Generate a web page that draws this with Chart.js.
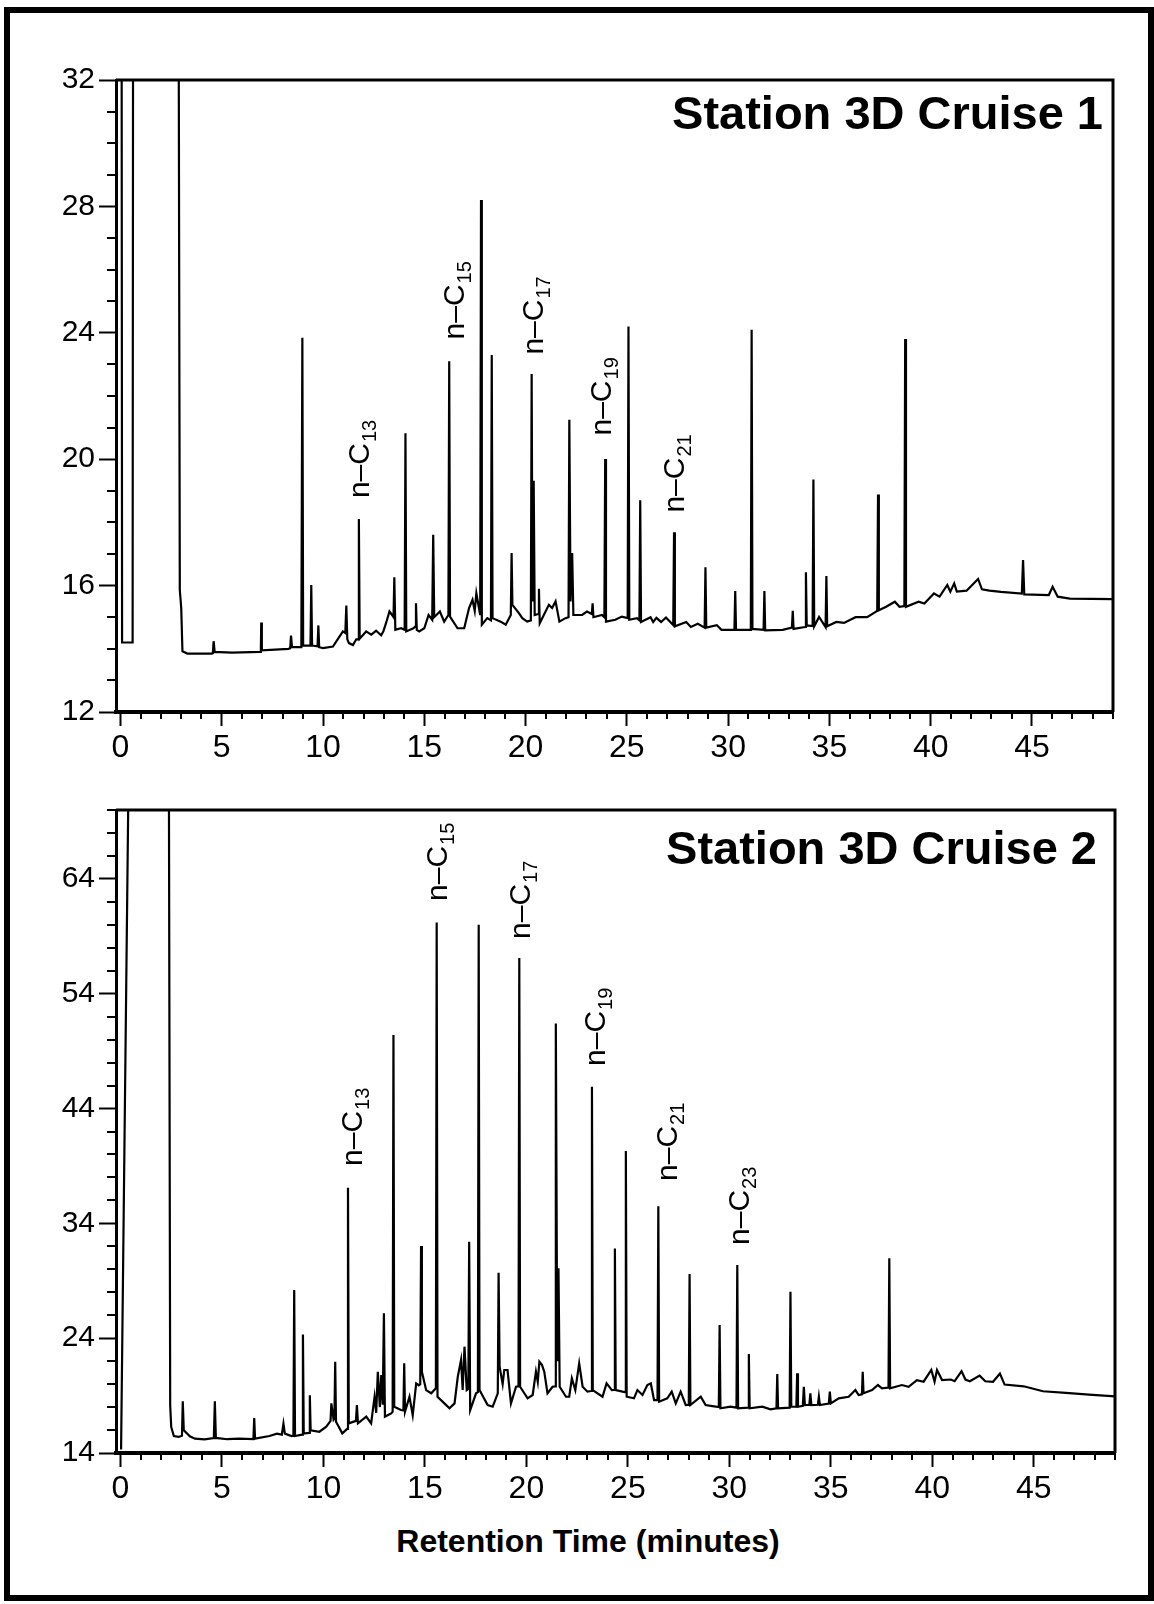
<!DOCTYPE html>
<html>
<head>
<meta charset="utf-8">
<title>Station 3D – Cruise 1 and Cruise 2</title>
<script src="https://cdn.jsdelivr.net/npm/chart.js"></script>
<style>
  html, body { margin: 0; padding: 0; background: #fff; }
  #page { position: relative; width: 1154px; height: 1604px; overflow: hidden; }
  #frame { position: absolute; left: 4px; top: 7px; width: 1150px; height: 1594px;
           border: 6px solid #000; box-sizing: border-box; }
  canvas { position: absolute; left: 0; }
  #xtitle { position: absolute; left: 0; width: 1176px; top: 1523px; text-align: center;
            font: bold 32px "Liberation Sans", Arial, sans-serif; line-height: 36px; color: #000; }
</style>
</head>
<body>
<div id="page">
  <div id="frame"></div>
  <canvas id="cruise1" width="1154" height="770" style="top:0"></canvas>
  <canvas id="cruise2" width="1154" height="745" style="top:775px"></canvas>
  <div id="xtitle">Retention Time (minutes)</div>
</div>
<script>
// Station 3D chromatograms, cruise 1 (top) and cruise 2 (bottom)

const timeTicks = [0, 5, 10, 15, 20, 25, 30, 35, 40, 45];

// --- Cruise 1 ---
const cruise1Time = [
  0.06, 0.08, 0.6, 0.62, 2.88, 2.93, 3.0, 3.06, 3.3, 4.5,
  4.56, 4.6, 4.65, 5.5, 6.9, 6.93, 6.95, 6.98, 8.3, 8.38,
  8.42, 8.47, 8.93, 8.98, 9.02, 9.38, 9.42, 9.46, 9.73, 9.77,
  9.81, 10.0, 10.49, 10.82, 10.98, 11.1, 11.15, 11.2, 11.28, 11.48,
  11.64, 11.73, 11.77, 11.81, 12.13, 12.38, 12.62, 12.87, 12.98, 13.11,
  13.28, 13.41, 13.48, 13.52, 13.57, 13.85, 14.03, 14.07, 14.11, 14.46,
  14.55, 14.59, 14.63, 14.75, 15.0, 15.21, 15.39, 15.44, 15.49, 15.77,
  15.98, 16.19, 16.23, 16.27, 16.64, 16.97, 17.21, 17.38, 17.49, 17.57,
  17.76, 17.8, 17.84, 18.11, 18.29, 18.33, 18.37, 18.77, 19.02, 19.27,
  19.31, 19.35, 19.67, 19.84, 20.08, 20.26, 20.3, 20.34, 20.4, 20.45,
  20.62, 20.66, 20.7, 21.15, 21.31, 21.48, 21.67, 21.97, 22.12, 22.16,
  22.22, 22.3, 22.36, 22.79, 23.03, 23.27, 23.31, 23.35, 23.77, 23.89,
  23.93, 23.97, 24.43, 24.75, 25.04, 25.08, 25.12, 25.5, 25.62, 25.66,
  25.7, 26.17, 26.3, 26.46, 26.69, 26.93, 27.29, 27.33, 27.37, 27.93,
  28.16, 28.5, 28.84, 28.88, 28.92, 29.44, 29.67, 30.31, 30.35, 30.39,
  31.12, 31.16, 31.2, 31.75, 31.79, 31.83, 32.69, 33.15, 33.19, 33.23,
  33.8, 33.84, 33.88, 34.17, 34.21, 34.25, 34.49, 34.81, 34.85, 34.89,
  35.34, 35.72, 36.29, 36.86, 37.36, 37.4, 37.44, 37.8, 38.23, 38.46,
  38.7, 38.74, 38.78, 39.4, 39.69, 40.16, 40.44, 40.82, 40.97, 41.16,
  41.29, 41.77, 42.34, 42.53, 42.9, 43.47, 44.5, 44.56, 44.62, 45.83,
  46.02, 46.27, 46.87, 49.0];
const cruise1Signal = [
  32, 14.2, 14.2, 32, 32, 15.86, 15.3, 13.92, 13.85, 13.85,
  13.86, 14.24, 13.9, 13.88, 13.9, 13.92, 14.83, 13.95, 14.0, 14.02,
  14.42, 14.05, 14.05, 23.84, 14.1, 14.1, 16.02, 14.1, 14.08, 14.74,
  14.05, 14.02, 14.07, 14.39, 14.55, 14.5, 15.37, 14.3, 14.18, 14.12,
  14.3, 14.3, 18.11, 14.32, 14.55, 14.45, 14.57, 14.43, 14.55, 14.81,
  15.18, 15.07, 15.0, 16.26, 14.6, 14.65, 14.6, 20.82, 14.55, 14.65,
  14.7, 15.44, 14.6, 14.55, 14.65, 15.07, 14.92, 17.61, 15.0, 15.18,
  14.86, 15.07, 23.1, 15.02, 14.65, 14.65, 15.29, 15.55, 15.2, 15.76,
  15.07, 28.2, 14.76, 14.97, 14.9, 23.3, 14.97, 14.86, 14.76, 15.07,
  17.03, 15.39, 15.13, 14.97, 14.86, 14.9, 22.7, 15.5, 19.32, 15.07,
  15.1, 15.9, 14.81, 15.39, 15.29, 15.5, 14.86, 14.97, 15.0, 21.25,
  15.5, 17.03, 15.07, 15.07, 15.18, 15.1, 15.44, 15.0, 15.07, 15.0,
  20.01, 14.86, 14.92, 15.02, 14.97, 24.2, 14.92, 14.97, 14.9, 18.7,
  14.85, 15.0, 14.85, 14.98, 14.85, 14.99, 14.75, 17.69, 14.71, 14.85,
  14.69, 14.79, 14.67, 16.58, 14.67, 14.75, 14.6, 14.6, 15.83, 14.6,
  14.6, 24.1, 14.63, 14.6, 15.83, 14.58, 14.6, 14.67, 15.2, 14.63,
  14.69, 16.42, 14.74, 14.72, 19.36, 14.71, 15.01, 14.69, 16.3, 14.71,
  14.85, 14.82, 15.0, 15.0, 15.2, 18.88, 15.22, 15.33, 15.49, 15.33,
  15.35, 23.8, 15.33, 15.49, 15.43, 15.75, 15.65, 16.02, 15.81, 16.07,
  15.81, 15.84, 16.21, 15.88, 15.84, 15.8, 15.75, 16.81, 15.72, 15.7,
  15.96, 15.65, 15.59, 15.57];
const cruise1Ticks = [12, 16, 20, 24, 28, 32];
const cruise1Peaks = ["13", "15", "17", "19", "21"];
const cruise1PeakTime = [11.73, 16.42, 20.34, 23.72, 27.32];
const cruise1PeakLevel = [18.77, 23.79, 23.31, 20.75, 18.31];

// --- Cruise 2 ---
const cruise2Time = [
  0.03, 0.38, 2.39, 2.45, 2.5, 2.63, 2.86, 3.03, 3.07, 3.12,
  3.42, 3.67, 4.14, 4.6, 4.65, 4.7, 5.27, 5.83, 6.55, 6.59,
  6.63, 7.34, 7.71, 7.95, 8.03, 8.1, 8.43, 8.52, 8.56, 8.6,
  8.95, 8.99, 9.03, 9.29, 9.33, 9.37, 9.8, 10.14, 10.35, 10.39,
  10.5, 10.54, 10.58, 10.62, 10.93, 11.17, 11.21, 11.25, 11.6, 11.65,
  11.7, 12.11, 12.35, 12.52, 12.6, 12.68, 12.78, 12.85, 12.92, 12.98,
  13.03, 13.34, 13.41, 13.45, 13.49, 13.82, 13.94, 13.98, 14.02, 14.24,
  14.4, 14.57, 14.7, 14.77, 14.81, 14.85, 15.06, 15.31, 15.54, 15.58,
  15.62, 15.96, 16.21, 16.46, 16.62, 16.78, 16.86, 16.95, 17.06, 17.14,
  17.18, 17.23, 17.52, 17.61, 17.65, 17.69, 18.09, 18.34, 18.59, 18.63,
  18.68, 18.83, 18.91, 19.07, 19.24, 19.49, 19.61, 19.65, 19.69, 20.06,
  20.31, 20.47, 20.56, 20.64, 20.77, 20.88, 21.04, 21.29, 21.41, 21.45,
  21.52, 21.58, 21.64, 21.95, 22.11, 22.24, 22.41, 22.6, 22.77, 23.01,
  23.19, 23.23, 23.27, 23.75, 23.95, 24.21, 24.32, 24.36, 24.4, 24.74,
  24.86, 24.9, 24.94, 25.3, 25.47, 25.72, 25.96, 26.13, 26.29, 26.46,
  26.5, 26.54, 26.94, 27.16, 27.36, 27.6, 27.85, 28.0, 28.04, 28.08,
  28.59, 28.83, 29.16, 29.48, 29.52, 29.56, 30.06, 30.35, 30.39, 30.43,
  30.92, 30.96, 31.0, 31.62, 32.03, 32.32, 32.36, 32.4, 32.97, 33.01,
  33.05, 33.3, 33.34, 33.38, 33.62, 33.67, 33.72, 33.94, 33.99, 34.04,
  34.36, 34.41, 34.46, 34.9, 34.95, 35.0, 35.39, 35.88, 36.21, 36.37,
  36.53, 36.57, 36.61, 37.03, 37.32, 37.52, 37.84, 37.88, 37.92, 38.5,
  38.83, 39.24, 39.57, 39.95, 40.11, 40.23, 40.48, 40.91, 41.1, 41.44,
  41.63, 41.85, 42.33, 42.61, 42.99, 43.33, 43.56, 44.5, 45.45, 46.58,
  47.72, 49.0];
const cruise2Signal = [
  14.3, 70, 70, 18.16, 16.27, 15.48, 15.4, 15.5, 18.5, 15.98,
  15.45, 15.25, 15.19, 15.3, 18.5, 15.31, 15.2, 15.25, 15.2, 17.05,
  15.25, 15.48, 15.69, 15.6, 16.56, 15.69, 15.48, 15.5, 28.19, 15.48,
  15.6, 24.32, 15.69, 15.75, 19.03, 15.98, 15.85, 16.29, 16.8, 18.32,
  16.9, 17.0, 21.95, 16.73, 15.71, 16.1, 37.1, 16.58, 16.8, 18.18,
  16.58, 17.17, 16.58, 18.9, 17.5, 21.08, 18.0, 20.79, 18.2, 26.16,
  17.17, 17.45, 17.6, 50.4, 18.03, 17.74, 17.7, 21.81, 17.6, 18.9,
  17.3, 20.06, 19.9, 20.0, 32.03, 21.08, 19.48, 19.2, 19.63, 60.2,
  18.9, 18.32, 17.89, 18.32, 20.65, 22.1, 19.5, 23.26, 19.48, 19.6,
  32.4, 17.74, 19.2, 19.3, 60.0, 19.48, 18.18, 18.03, 19.2, 29.7,
  21.52, 20.0, 21.23, 21.23, 18.32, 19.77, 19.8, 57.1, 19.77, 18.76,
  19.05, 21.08, 20.2, 21.95, 21.66, 21.08, 19.2, 19.77, 19.8, 51.4,
  22.0, 30.08, 19.77, 18.9, 18.9, 20.5, 19.48, 21.81, 19.77, 19.34,
  19.4, 45.9, 19.48, 18.9, 20.06, 19.48, 19.5, 31.82, 19.48, 19.34,
  19.3, 40.3, 18.9, 18.76, 19.48, 19.05, 19.92, 20.06, 18.6, 18.6,
  35.5, 18.47, 18.76, 19.34, 18.32, 19.34, 18.18, 18.2, 29.59, 18.18,
  18.9, 18.18, 18.09, 18.0, 25.15, 17.89, 18.03, 17.95, 30.37, 17.89,
  17.95, 22.62, 17.89, 18.03, 17.8, 17.9, 20.88, 17.89, 17.95, 28.05,
  18.03, 18.03, 20.94, 18.03, 18.1, 19.77, 18.18, 18.2, 19.2, 18.18,
  18.2, 18.9, 18.18, 18.3, 19.34, 18.32, 18.76, 18.9, 19.48, 19.05,
  19.1, 21.08, 19.2, 19.48, 19.92, 19.63, 19.7, 30.95, 19.63, 19.92,
  19.77, 20.35, 20.21, 21.23, 20.21, 21.23, 20.35, 20.4, 20.25, 21.12,
  20.4, 20.25, 20.74, 20.25, 20.2, 20.92, 19.96, 19.81, 19.38, 19.23,
  19.09, 18.94];
const cruise2Ticks = [14, 24, 34, 44, 54, 64];
const cruise2Peaks = ["13", "15", "17", "19", "21", "23"];
const cruise2PeakTime = [11.36, 15.59, 19.68, 23.36, 26.91, 30.47];
const cruise2PeakLevel = [39.0, 62.08, 58.77, 47.71, 37.69, 32.12];

const FONT = '"Liberation Sans", Arial, sans-serif';
Chart.defaults.color = "#000";
Chart.defaults.font.family = FONT;

function makeChart(canvasId, cfg) {
    const points = cfg.time.map((t, i) => ({ x: t, y: cfg.signal[i] }));

    // frame, minor ticks, title and n-alkane labels
    const decor = {
        id: "decor",
        afterDatasetsDraw(chart) {
            const { ctx, chartArea: a, scales } = chart;
            ctx.save();
            ctx.strokeStyle = "#000";
            ctx.lineWidth = 3;
            ctx.beginPath();
            ctx.moveTo(a.left, a.top);
            ctx.lineTo(a.right, a.top);
            ctx.lineTo(a.right, a.bottom);
            ctx.stroke();

            ctx.lineWidth = 2;
            scales.x.ticks.forEach(t => {
                if (timeTicks.includes(t.value)) return;
                const px = Math.round(scales.x.getPixelForValue(t.value));
                ctx.beginPath();
                ctx.moveTo(px, a.bottom);
                ctx.lineTo(px, a.bottom + 7);
                ctx.stroke();
            });
            scales.y.ticks.forEach(t => {
                if (cfg.yTicks.includes(t.value)) return;
                const py = Math.round(scales.y.getPixelForValue(t.value));
                ctx.beginPath();
                ctx.moveTo(a.left - 9, py);
                ctx.lineTo(a.left, py);
                ctx.stroke();
            });

            ctx.fillStyle = "#000";
            ctx.font = "bold 47px " + FONT;
            ctx.textAlign = "right";
            ctx.textBaseline = "alphabetic";
            ctx.fillText(cfg.title, a.right - cfg.titleInset, a.top + cfg.titleDrop);

            ctx.textAlign = "left";
            cfg.peaks.forEach((name, i) => {
                const x = scales.x.getPixelForValue(cfg.peakTime[i]) + 10.5;
                const y = scales.y.getPixelForValue(cfg.peakLevel[i]);
                ctx.save();
                ctx.translate(x, y);
                ctx.rotate(-Math.PI / 2);
                ctx.font = "30px " + FONT;
                ctx.fillText("n\u2013C", 0, 0);
                const w = ctx.measureText("n\u2013C").width;
                ctx.font = "20px " + FONT;
                ctx.fillText(name, w + 1, 7);
                ctx.restore();
            });
            ctx.restore();
        }
    };

    return new Chart(document.getElementById(canvasId), {
        type: "line",
        data: {
            datasets: [{
                data: points,
                borderColor: "#000",
                borderWidth: 2.2,
                pointRadius: 0,
                tension: 0,
                fill: false
            }]
        },
        options: {
            responsive: false,
            animation: false,
            events: [],
            layout: { padding: cfg.padding },
            plugins: { legend: { display: false }, tooltip: { enabled: false } },
            scales: {
                x: {
                    type: "linear",
                    min: -0.22,
                    max: 49,
                    afterFit: s => { s.height = 50; },
                    border: { display: true, color: "#000", width: 4 },
                    grid: {
                        drawOnChartArea: false,
                        tickLength: 14,
                        tickWidth: 2,
                        tickColor: c => (c.tick && timeTicks.includes(c.tick.value)) ? "#000" : "rgba(0,0,0,0)"
                    },
                    ticks: {
                        stepSize: 1,
                        includeBounds: false,
                        autoSkip: false,
                        maxRotation: 0,
                        padding: 3,
                        font: { size: 32 },
                        callback: v => timeTicks.includes(v) ? String(v) : ""
                    }
                },
                y: {
                    min: cfg.yMin,
                    max: cfg.yMax,
                    afterFit: s => { s.width = 116; },
                    border: { display: true, color: "#000", width: 3 },
                    grid: {
                        drawOnChartArea: false,
                        tickLength: 17,
                        tickWidth: 2,
                        tickColor: c => (c.tick && cfg.yTicks.includes(c.tick.value)) ? "#000" : "rgba(0,0,0,0)"
                    },
                    ticks: {
                        stepSize: cfg.yStep,
                        autoSkip: false,
                        padding: 4,
                        font: { size: 30 },
                        callback: v => cfg.yTicks.includes(v) ? String(v) : ""
                    }
                }
            }
        },
        plugins: [decor]
    });
}

makeChart("cruise1", {
    time: cruise1Time, signal: cruise1Signal,
    yMin: 12, yMax: 32, yStep: 1, yTicks: cruise1Ticks,
    peaks: cruise1Peaks, peakTime: cruise1PeakTime, peakLevel: cruise1PeakLevel,
    title: "Station 3D Cruise 1", titleInset: 10, titleDrop: 49,
    padding: { left: 0, top: 80, right: 41, bottom: 8 }
});

makeChart("cruise2", {
    time: cruise2Time, signal: cruise2Signal,
    yMin: 14, yMax: 70, yStep: 2, yTicks: cruise2Ticks,
    peaks: cruise2Peaks, peakTime: cruise2PeakTime, peakLevel: cruise2PeakLevel,
    title: "Station 3D Cruise 2", titleInset: 18, titleDrop: 54,
    padding: { left: 0, top: 35, right: 39, bottom: 17 }
});
</script>
</body>
</html>
